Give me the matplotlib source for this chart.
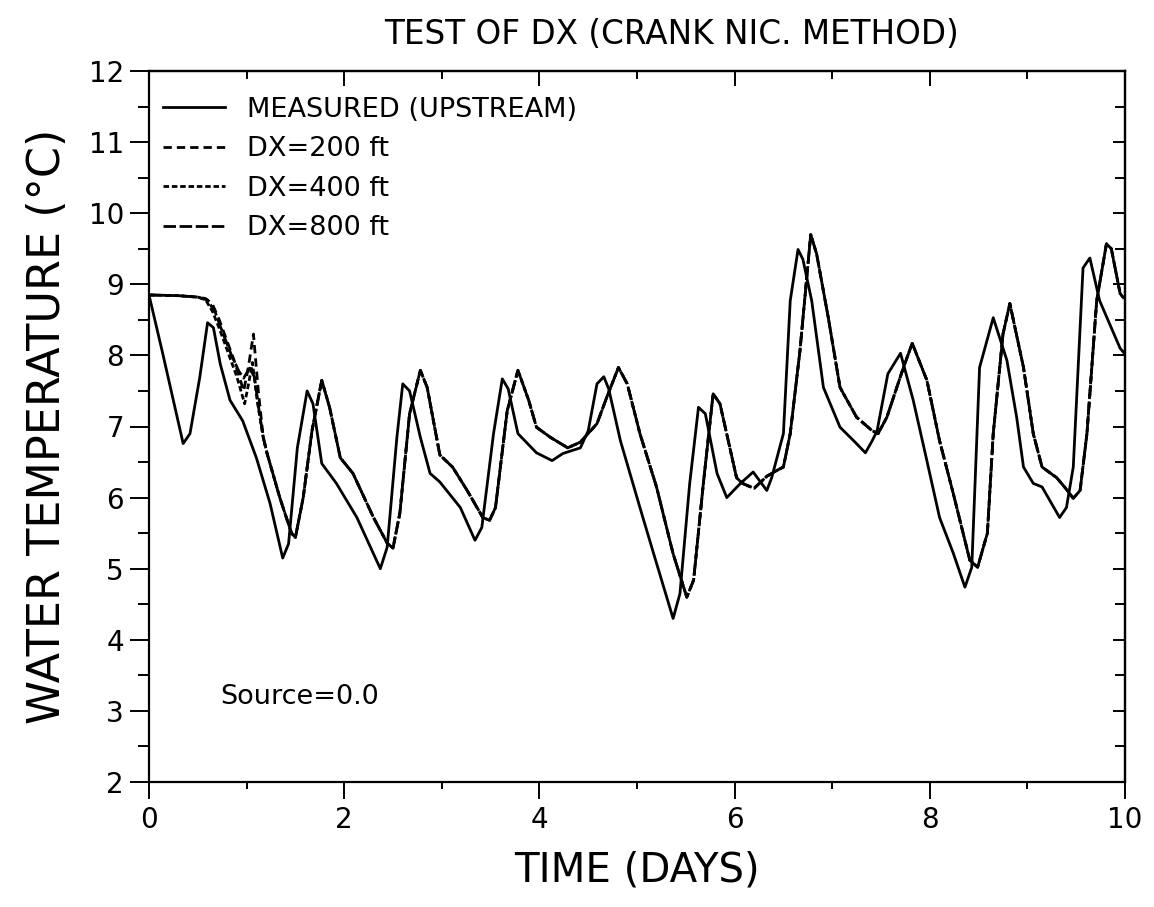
import matplotlib
matplotlib.use("Agg")
import matplotlib.pyplot as plt
from matplotlib.ticker import MultipleLocator

# =============================================================================
# Data: water temperature, measured vs. Crank-Nicolson runs with three DX
# =============================================================================

t_meas = [0.0, 0.14, 0.35, 0.42, 0.52, 0.60, 0.66, 0.73, 0.83, 0.96, 1.10,
          1.24, 1.37, 1.43, 1.52, 1.62, 1.68, 1.77, 1.92, 2.13, 2.37, 2.44,
          2.54, 2.60, 2.67, 2.78, 2.88, 2.98, 3.19, 3.34, 3.41, 3.53, 3.62,
          3.68, 3.78, 3.97, 4.13, 4.24, 4.42, 4.50, 4.59, 4.66, 4.71, 4.83,
          5.03, 5.16, 5.37, 5.44, 5.54, 5.63, 5.70, 5.82, 5.92, 6.06, 6.19,
          6.33, 6.38, 6.50, 6.57, 6.65, 6.70, 6.79, 6.91, 7.08, 7.22, 7.34,
          7.41, 7.46, 7.57, 7.70, 7.83, 7.97, 8.10, 8.24, 8.36, 8.43, 8.51,
          8.65, 8.79, 8.89, 8.96, 9.06, 9.15, 9.33, 9.40, 9.47, 9.57, 9.64,
          9.74, 9.95, 10.0]
temp_meas = [8.85, 8.03, 6.76, 6.90, 7.69, 8.46, 8.39, 7.88, 7.37, 7.08, 6.56,
             5.92, 5.15, 5.35, 6.70, 7.50, 7.32, 6.48, 6.20, 5.72, 5.00, 5.30,
             6.85, 7.60, 7.50, 6.85, 6.34, 6.22, 5.86, 5.40, 5.58, 6.90, 7.67,
             7.53, 6.90, 6.63, 6.52, 6.62, 6.70, 6.94, 7.60, 7.70, 7.53, 6.80,
             5.86, 5.26, 4.30, 4.65, 6.20, 7.27, 7.18, 6.34, 6.00, 6.20, 6.36,
             6.10, 6.28, 6.90, 8.77, 9.49, 9.35, 8.77, 7.55, 6.99, 6.80, 6.63,
             6.80, 6.94, 7.74, 8.03, 7.37, 6.52, 5.72, 5.22, 4.74, 5.02, 7.83,
             8.53, 7.93, 7.13, 6.43, 6.20, 6.15, 5.72, 5.86, 6.43, 9.23, 9.37,
             8.77, 8.10, 8.02]

# early part of each run (where the three grid sizes differ)
t_dx200 = [0.0, 0.30, 0.50, 0.58, 0.65, 0.72, 0.80, 0.88, 0.97, 1.02, 1.07, 1.12]
temp_dx200 = [8.85, 8.84, 8.82, 8.80, 8.72, 8.50, 8.20, 7.90, 7.50, 7.85, 8.30, 7.50]

t_dx400 = [0.0, 0.30, 0.50, 0.58, 0.65, 0.72, 0.80, 0.90, 0.98, 1.02, 1.06, 1.11]
temp_dx400 = [8.85, 8.84, 8.82, 8.78, 8.62, 8.38, 8.08, 7.70, 7.32, 7.60, 7.90, 7.35]

t_dx800 = [0.0, 0.30, 0.50, 0.60, 0.68, 0.76, 0.84, 0.92, 0.97, 1.03, 1.08, 1.13]
temp_dx800 = [8.85, 8.84, 8.82, 8.78, 8.60, 8.30, 8.02, 7.78, 7.68, 7.82, 7.70, 7.20]

# remainder of the runs, practically identical for all DX
t_sim_tail = [1.17, 1.21, 1.34, 1.46, 1.50, 1.58, 1.67, 1.77, 1.85, 1.96, 2.09,
              2.30, 2.44, 2.50, 2.57, 2.67, 2.78, 2.85, 2.98, 3.11, 3.26, 3.42,
              3.49, 3.55, 3.67, 3.78, 3.89, 3.97, 4.11, 4.29, 4.42, 4.59, 4.69,
              4.81, 4.90, 5.03, 5.20, 5.37, 5.51, 5.58, 5.68, 5.78, 5.85, 6.02,
              6.08, 6.20, 6.33, 6.43, 6.50, 6.57, 6.67, 6.78, 6.84, 6.96, 7.08,
              7.25, 7.41, 7.47, 7.56, 7.73, 7.82, 7.97, 8.10, 8.24, 8.41, 8.49,
              8.59, 8.65, 8.75, 8.82, 8.96, 9.06, 9.15, 9.30, 9.38, 9.47, 9.54,
              9.61, 9.71, 9.81, 9.86, 9.95, 9.99]
temp_sim_tail = [6.85, 6.62, 6.00, 5.50, 5.44, 6.00, 6.94, 7.65, 7.27, 6.56, 6.34,
                 5.72, 5.36, 5.29, 5.78, 7.18, 7.79, 7.55, 6.60, 6.43, 6.10, 5.72,
                 5.68, 5.86, 7.22, 7.79, 7.37, 6.99, 6.85, 6.70, 6.78, 7.04, 7.41,
                 7.83, 7.60, 6.90, 6.15, 5.21, 4.60, 4.84, 6.20, 7.46, 7.32, 6.28,
                 6.20, 6.13, 6.30, 6.38, 6.43, 6.90, 8.07, 9.70, 9.43, 8.53, 7.55,
                 7.13, 6.94, 6.90, 7.13, 7.83, 8.17, 7.65, 6.80, 6.06, 5.12, 5.02,
                 5.50, 6.90, 8.30, 8.73, 7.83, 6.90, 6.43, 6.28, 6.15, 5.99, 6.10,
                 6.90, 8.77, 9.57, 9.50, 8.87, 8.80]

runs = [
    ("DX=200 ft", t_dx200, temp_dx200, (6.0, 3.6)),
    ("DX=400 ft", t_dx400, temp_dx400, (4.0, 2.0)),
    ("DX=800 ft", t_dx800, temp_dx800, (9.0, 2.6)),
]

# =============================================================================
# Figure
# =============================================================================

plt.rcParams["font.family"] = ["DejaVu Sans"]
plt.rcParams["lines.scale_dashes"] = False

fig = plt.figure(figsize=(11.54, 9.07), dpi=100)
ax = fig.add_axes([149 / 1154, 1 - 782 / 907, 976 / 1154, 711 / 907])

lw = 2.0
ax.plot(t_meas, temp_meas, color="black", linewidth=lw,
        label="MEASURED (UPSTREAM)")
for label, t_head, temp_head, dashes in runs:
    ax.plot(t_head + t_sim_tail, temp_head + temp_sim_tail, color="black",
            linewidth=lw, linestyle=(0, dashes), label=label)

ax.set_xlim(0, 10)
ax.set_ylim(2, 12)

# bottom / left: outward ticks with labels
ax.xaxis.set_major_locator(MultipleLocator(2))
ax.xaxis.set_minor_locator(MultipleLocator(1))
ax.yaxis.set_major_locator(MultipleLocator(1))
ax.yaxis.set_minor_locator(MultipleLocator(0.5))
ax.tick_params(axis="x", which="major", direction="out", length=12, width=1.4,
               pad=5, labelsize=20)
ax.tick_params(axis="x", which="minor", direction="out", length=5, width=1.4)
ax.tick_params(axis="y", which="major", direction="out", length=14, width=1.4,
               pad=4, labelsize=20)
ax.tick_params(axis="y", which="minor", direction="out", length=8, width=1.4)

# top / right: inward ticks, no labels
top = ax.secondary_xaxis("top")
top.xaxis.set_major_locator(MultipleLocator(2))
top.xaxis.set_minor_locator(MultipleLocator(1))
top.tick_params(which="major", direction="in", length=11, width=1.4,
                labeltop=False)
top.tick_params(which="minor", direction="in", length=6, width=1.4)
right = ax.secondary_yaxis("right")
right.yaxis.set_major_locator(MultipleLocator(1))
right.yaxis.set_minor_locator(MultipleLocator(0.5))
right.tick_params(which="major", direction="in", length=9, width=1.4,
                  labelright=False)
right.tick_params(which="minor", direction="in", length=7, width=1.4)

for spine in list(ax.spines.values()) + [top.spines["top"], right.spines["right"]]:
    spine.set_linewidth(1.6)

ax.set_xlabel("TIME (DAYS)", fontsize=29, labelpad=12)
ax.set_ylabel("WATER TEMPERATURE (°C)", fontsize=32, labelpad=14)
fig.text(0.582, 0.962, "TEST OF DX (CRANK NIC. METHOD)", fontsize=23.5,
         ha="center", va="center")

ax.text(0.73, 3.2, "Source=0.0", fontsize=19.5, ha="left", va="center")

ax.legend(loc="upper left", bbox_to_anchor=(0.014, 0.964), frameon=False,
          fontsize=19.5, handlelength=2.3, handletextpad=0.8,
          labelspacing=0.5, borderpad=0, borderaxespad=0)

fig.savefig("out.png", dpi=100)
